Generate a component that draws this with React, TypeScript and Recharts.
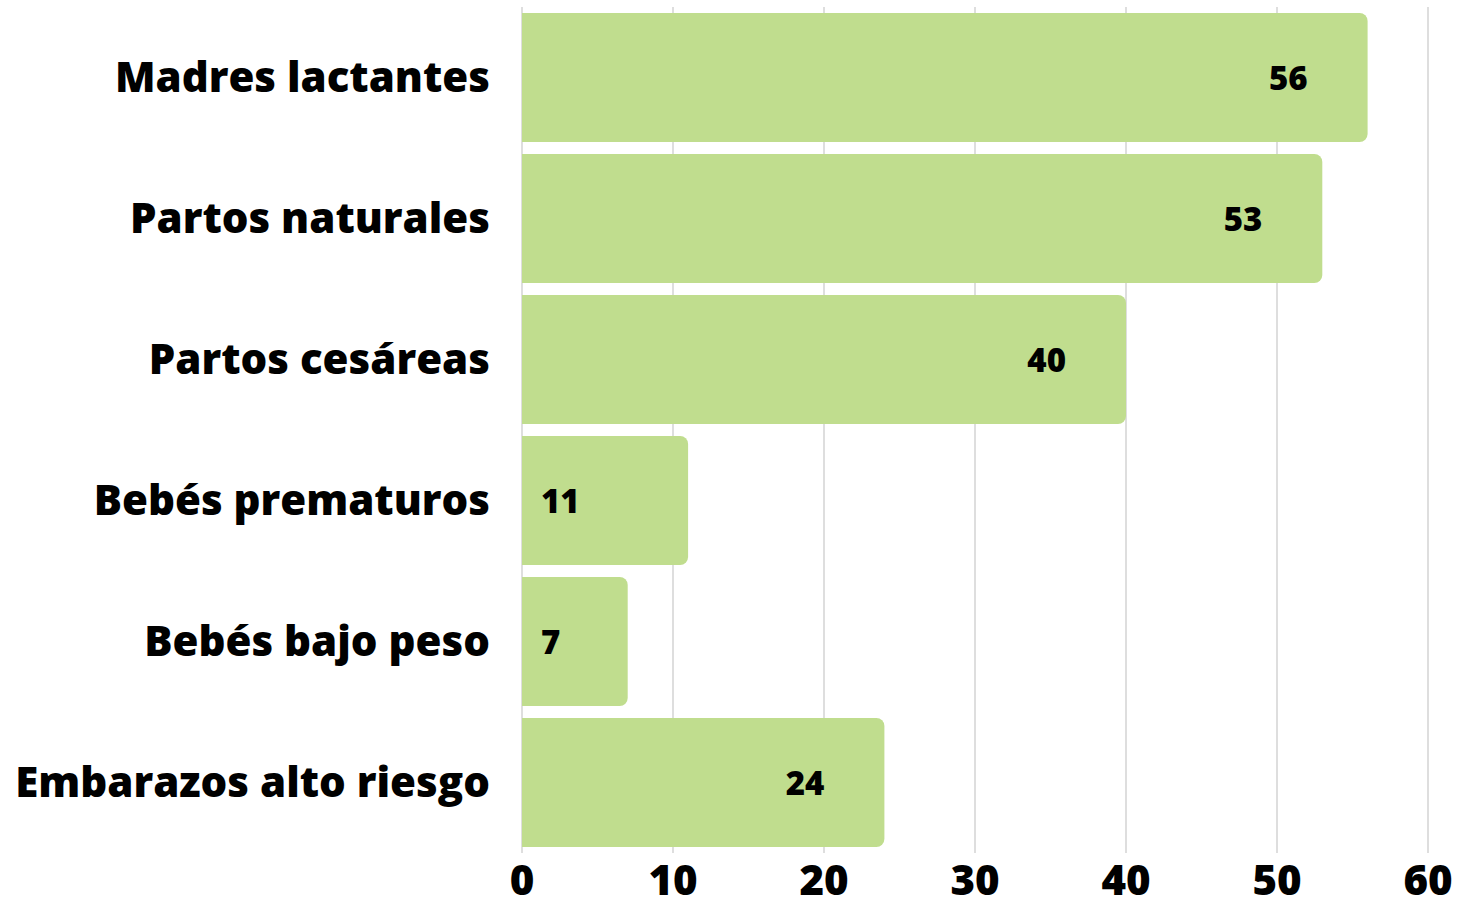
import React from 'react';
import { BarChart, Bar, CartesianGrid, XAxis, YAxis, LabelList } from 'recharts';

const categories = [
  'Madres lactantes',
  'Partos naturales',
  'Partos cesáreas',
  'Bebés prematuros',
  'Bebés bajo peso',
  'Embarazos alto riesgo',
];
const values = [56, 53, 40, 11, 7, 24];
const xTicks = [0, 10, 20, 30, 40, 50, 60];

const data = categories.map((name, i) => ({ name, value: values[i] }));

const FONT = '"Open Sans", sans-serif';
const BAR_COLOR = '#c0dd8e';

const renderLabel = (props: any) => {
  const { x, y, width, height, value } = props;
  const small = value < 15;
  const tx = small ? x + 19 : x + width - 60;
  return (
    <text
      x={tx}
      y={y + height / 2}
      textAnchor={small ? 'start' : 'end'}
      dominantBaseline="central"
      fontFamily={FONT}
      fontWeight={800}
      fontSize={33}
      fill="#000"
    >
      {value}
    </text>
  );
};

const App = () => (
  <div style={{ position: 'absolute', left: 0, top: 0, background: '#fff' }}>
    <BarChart
      width={1471}
      height={908}
      data={data}
      layout="vertical"
      margin={{ top: 7, right: 43, bottom: 0, left: 0 }}
      barCategoryGap={6}
    >
      <CartesianGrid horizontal={false} stroke="#bdbdbd" />
      <XAxis
        type="number"
        domain={[0, 60]}
        ticks={xTicks}
        axisLine={false}
        tickLine={false}
        tickSize={0}
        tickMargin={12}
        height={55}
        tick={{ fontFamily: FONT, fontWeight: 800, fontSize: 42, fill: '#000' }}
      />
      <YAxis
        type="category"
        dataKey="name"
        width={522}
        axisLine={false}
        tickLine={false}
        tickSize={0}
        tickMargin={32}
        tick={{ fontFamily: FONT, fontWeight: 800, fontSize: 42, fill: '#000' }}
      />
      <Bar dataKey="value" fill={BAR_COLOR} radius={[0, 8, 8, 0]} isAnimationActive={false}>
        <LabelList dataKey="value" content={renderLabel} />
      </Bar>
    </BarChart>
  </div>
);

export default App;
